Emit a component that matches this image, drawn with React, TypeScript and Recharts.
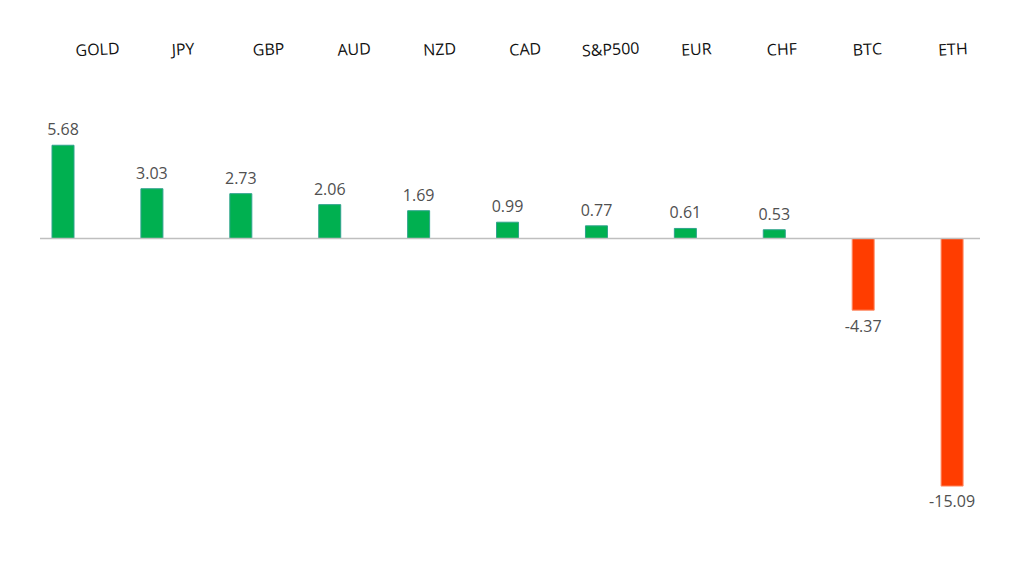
import React from 'react';
import { BarChart, Bar, XAxis, YAxis, Cell, LabelList, ReferenceLine } from 'recharts';

const categories = ['GOLD', 'JPY', 'GBP', 'AUD', 'NZD', 'CAD', 'S&P500', 'EUR', 'CHF', 'BTC', 'ETH'];
const changes = [5.68, 3.03, 2.73, 2.06, 1.69, 0.99, 0.77, 0.61, 0.53, -4.37, -15.09];

const data = categories.map((name, i) => ({ name, value: changes[i] }));

const UP = '#00B050';
const UP_EDGE = '#2FA38C';
const DOWN = '#FF3D00';
const DOWN_EDGE = '#FF8C66';

const NameTick = (props: any) => {
  const { x, payload } = props;
  const ty = 55;
  return (
    <text
      x={x}
      y={ty}
      textAnchor="middle"
      fontSize={16}
      fontFamily="'Open Sans', sans-serif"
      fill="#111"
      transform={`rotate(-3 ${x} ${ty})`}
    >
      {payload.value}
    </text>
  );
};

export default function App() {
  return (
    <div style={{ width: 1024, height: 564, background: '#fff' }}>
      <style>{'body{margin:0}'}</style>
      <BarChart
        width={1024}
        height={564}
        data={data}
        margin={{ top: 40, right: 44, bottom: 63, left: 40 }}
      >
        <XAxis
          xAxisId="names"
          dataKey="name"
          orientation="top"
          height={100}
          axisLine={false}
          tickLine={false}
          interval={0}
          padding={{ left: 15, right: -16 }}
          tick={<NameTick />}
        />
        <XAxis xAxisId="bars" dataKey="name" hide padding={{ left: -21, right: -17 }} />
        <YAxis hide domain={[-16, 6]} allowDataOverflow />
        <ReferenceLine y={0} xAxisId="names" stroke="#BFBFBF" strokeWidth={1.5} />
        <Bar xAxisId="bars" dataKey="value" barSize={22} isAnimationActive={false}>
          {data.map((d) => (
            <Cell
              key={d.name}
              fill={d.value >= 0 ? UP : DOWN}
              stroke={d.value >= 0 ? UP_EDGE : DOWN_EDGE}
              strokeWidth={1}
            />
          ))}
          <LabelList
            dataKey="value"
            position="top"
            offset={10}
            fontSize={16}
            fontFamily="'Open Sans', sans-serif"
            fill="#505050"
            formatter={(v: any) => Number(v).toFixed(2)}
          />
        </Bar>
      </BarChart>
    </div>
  );
}
